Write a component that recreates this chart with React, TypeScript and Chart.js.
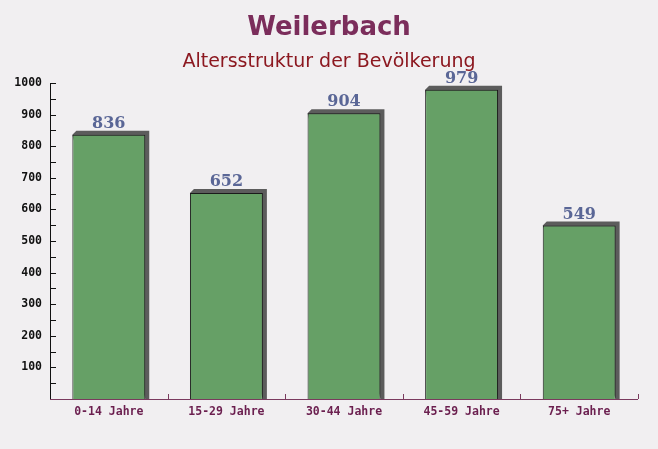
import React, { useEffect, useRef } from "react";
import { Chart, registerables } from "chart.js";

Chart.register(...registerables);

const categories = ["0-14 Jahre", "15-29 Jahre", "30-44 Jahre", "45-59 Jahre", "75+ Jahre"];
const values = [836, 652, 904, 979, 549];
const yMin = 0;
const yMax = 1000;
const yStep = 100;

const titleText = "Weilerbach";
const subtitleText = "Altersstruktur der Bevölkerung";

const bgPlugin = {
  id: "bgPlugin",
  beforeDraw(chart: any) {
    const { ctx, width, height } = chart;
    ctx.save();
    ctx.fillStyle = "#f1eff1";
    ctx.fillRect(0, 0, width, height);
    // titles
    ctx.textAlign = "center";
    ctx.textBaseline = "middle";
    ctx.fillStyle = "#7b2d5b";
    ctx.font = "bold 26px 'DejaVu Sans'";
    ctx.fillText(titleText, width / 2, 28);
    ctx.fillStyle = "#8c1820";
    ctx.font = "19px 'DejaVu Sans'";
    ctx.fillText(subtitleText, width / 2, 62);
    ctx.restore();
  },
};

const shadowPlugin = {
  id: "shadowPlugin",
  beforeDatasetsDraw(chart: any) {
    const { ctx } = chart;
    const meta = chart.getDatasetMeta(0);
    ctx.save();
    meta.data.forEach((bar: any) => {
      const w = bar.width;
      const left = bar.x - w / 2;
      const off = 4;
      ctx.fillStyle = "#5c5c5c";
      ctx.beginPath();
      ctx.moveTo(left, bar.y);
      ctx.lineTo(left + off, bar.y - off);
      ctx.lineTo(left + w + off, bar.y - off);
      ctx.lineTo(left + w + off, bar.base);
      ctx.lineTo(left + w, bar.base);
      ctx.closePath();
      ctx.fill();
    });
    ctx.restore();
  },
  afterDatasetsDraw(chart: any) {
    const { ctx } = chart;
    const meta = chart.getDatasetMeta(0);
    ctx.save();
    ctx.font = "bold 16px 'DejaVu Serif'";
    ctx.fillStyle = "#5a6696";
    ctx.textAlign = "center";
    ctx.textBaseline = "bottom";
    meta.data.forEach((bar: any, i: number) => {
      ctx.fillText(String(values[i]), bar.x, bar.y - 3);
    });
    ctx.restore();
  },
  afterDraw(chart: any) {
    const { ctx, chartArea } = chart;
    const xs = chart.scales.x;
    const ys = chart.scales.y;
    ctx.save();
    ctx.strokeStyle = "#111";
    ctx.lineWidth = 1;
    ctx.beginPath();
    ctx.moveTo(chartArea.left + 0.5, chartArea.top);
    ctx.lineTo(chartArea.left + 0.5, chartArea.bottom);
    ctx.stroke();
    for (let v = yMin + yStep / 2; v <= yMax; v += yStep / 2) {
      const py = Math.round(ys.getPixelForValue(v)) + 0.5;
      ctx.beginPath();
      ctx.moveTo(chartArea.left, py);
      ctx.lineTo(chartArea.left + 6, py);
      ctx.stroke();
    }
    ctx.strokeStyle = "#7a3a5e";
    ctx.beginPath();
    ctx.moveTo(chartArea.left, chartArea.bottom + 0.5);
    ctx.lineTo(chartArea.right, chartArea.bottom + 0.5);
    ctx.stroke();
    const n = categories.length;
    const step = xs.getPixelForValue(1) - xs.getPixelForValue(0);
    for (let i = 0; i < n; i++) {
      const px = Math.round(xs.getPixelForValue(i) + step / 2) + 0.5;
      ctx.beginPath();
      ctx.moveTo(px, chartArea.bottom);
      ctx.lineTo(px, chartArea.bottom - 5);
      ctx.stroke();
    }
    ctx.restore();
  },
};

export default function App() {
  const ref = useRef<HTMLCanvasElement>(null);
  useEffect(() => {
    if (!ref.current) return;
    const chart = new Chart(ref.current, {
      type: "bar",
      data: {
        labels: categories,
        datasets: [
          {
            data: values,
            backgroundColor: "#66a066",
            borderColor: "#1a1a1a",
            borderWidth: 1,
            borderSkipped: "bottom",
            categoryPercentage: 0.62,
            barPercentage: 1,
          },
        ],
      },
      options: {
        animation: false,
        responsive: false,
        maintainAspectRatio: false,
        layout: { padding: { left: 0, right: 20, top: 83, bottom: 0 } },
        plugins: {
          legend: { display: false },
          tooltip: { enabled: false },
          title: { display: false },
          subtitle: { display: false },
        },
        scales: {
          x: {
            grid: { display: false, drawTicks: false },
            border: { display: false },
            ticks: {
              color: "#6b1f4f",
              font: { family: "'DejaVu Sans Mono'", size: 11.5, weight: "bold" },
              padding: 6,
              maxRotation: 0,
            },
            afterFit(scale: any) {
              scale.height = 50;
            },
          },
          y: {
            min: yMin,
            max: yMax,
            grid: { display: false, drawTicks: false },
            border: { display: false },
            ticks: {
              stepSize: yStep,
              color: "#111",
              font: { family: "'DejaVu Sans Mono'", size: 11.5, weight: "bold" },
              padding: 8,
              callback: (v: any) => (v === 0 ? "" : String(v)),
            },
            afterFit(scale: any) {
              scale.width = 50;
            },
          },
        },
      },
      plugins: [bgPlugin, shadowPlugin],
    });
    return () => chart.destroy();
  }, []);
  return (
    <div style={{ position: "fixed", left: 0, top: 0, width: 658, height: 449 }}>
      <canvas ref={ref} width={658} height={449} style={{ display: "block" }} />
    </div>
  );
}
